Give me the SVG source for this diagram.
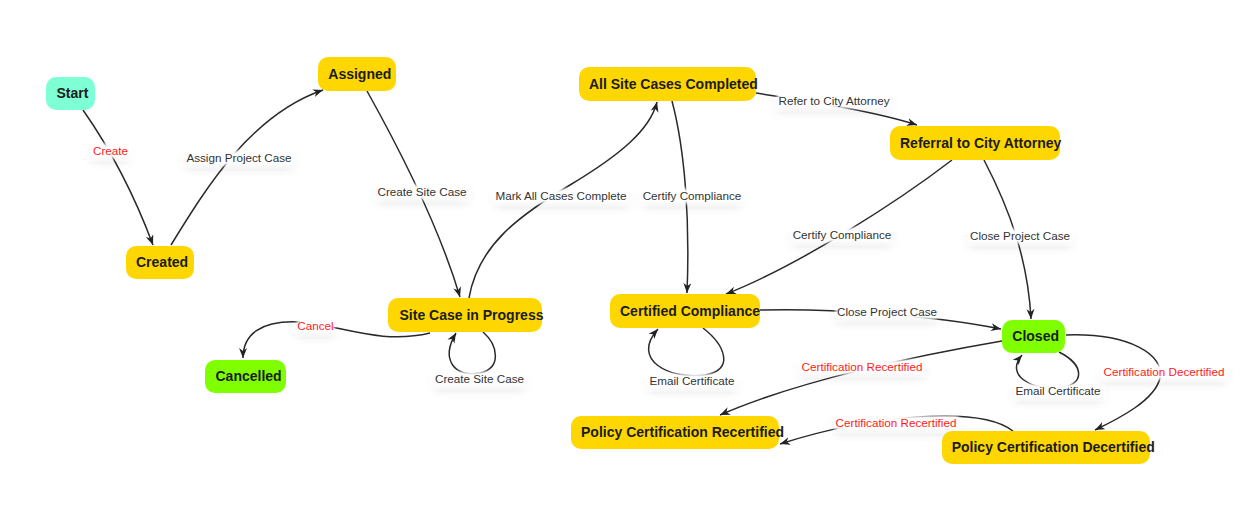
<svg xmlns="http://www.w3.org/2000/svg" width="1248" height="525" viewBox="0 0 1248 525">
<defs>
<style>
.node rect{stroke:none}
.yellow{fill:#FFD700}
.green{fill:#7FFF00}
.aqua{fill:#7FFFD4}
.ntext{font-family:"Liberation Sans",Arial,sans-serif;font-size:14px;font-weight:bold;fill:#1c1c1c}
.edge{fill:none;stroke:#2a2a2a;stroke-width:1.5;marker-end:url(#arrow)}
.lbl{font-family:"Liberation Sans",Arial,sans-serif;font-size:11.7px;fill:#333;text-anchor:middle}
.red{fill:#FF1a1a}
.lbg{fill:#fff;filter:url(#glow)}
</style>
<marker id="arrow" markerUnits="userSpaceOnUse" markerWidth="11" markerHeight="9" refX="10" refY="4" orient="auto" viewBox="0 0 11 9">
<path d="M0,0 L10,4 L0,8 L3,4 z" fill="#222"/>
</marker>
<filter id="glow" x="-50%" y="-150%" width="200%" height="400%">
<feGaussianBlur in="SourceAlpha" stdDeviation="5" result="b"/>
<feOffset in="b" dx="0" dy="4" result="o"/>
<feFlood flood-color="#000" flood-opacity="0.13"/>
<feComposite in2="o" operator="in" result="s"/>
<feGaussianBlur in="SourceGraphic" stdDeviation="2" result="w"/>
<feMerge><feMergeNode in="s"/><feMergeNode in="w"/><feMergeNode in="w"/></feMerge>
</filter>
</defs>
<rect width="1248" height="525" fill="#fff"/>

<g id="connectors">
<path class="edge" d="M83,110 Q125,170 153,245"/>
<path class="edge" d="M171,245 C205,190 250,115 323,90"/>
<path class="edge" d="M367,91 C400,150 440,230 460,297"/>
<path class="edge" d="M469,298 C478,245 520,215 570,185 C620,155 650,130 657,102"/>
<path class="edge" d="M672,101 C685,150 690,220 687,293"/>
<path class="edge" d="M756,93 C800,100 870,110 917,125"/>
<path class="edge" d="M952,160 C900,200 800,265 726,294"/>
<path class="edge" d="M984,160 C1010,210 1028,260 1031,319"/>
<path class="edge" d="M760,310 C830,308 930,315 1001,329"/>
<path class="edge" d="M1002,341 C920,355 800,380 720,415"/>
<path class="edge" d="M1013,431 C980,405 870,415 780,444"/>
<path class="edge" d="M1066,335 C1130,333 1165,355 1160,378 C1155,400 1120,418 1095,430"/>
<path class="edge" d="M430,333 C380,345 340,325 300,322 C260,320 243,335 243,358"/>
<path class="edge" d="M483,332 C498,345 502,368 480,373 C455,378 440,360 456,333"/>
<path class="edge" d="M703,328 C725,345 735,370 705,375 C670,380 630,360 658,329"/>
<path class="edge" d="M1059,352 C1085,365 1085,385 1060,388 C1030,390 1005,375 1022,355"/>
</g>

<g id="edge-labels">
<g><rect class="lbg" x="93" y="145" width="35" height="12"/><text class="lbl red" x="110.5" y="155">Create</text></g>
<g><rect class="lbg" x="187" y="152" width="105" height="12"/><text class="lbl" x="239" y="162">Assign Project Case</text></g>
<g><rect class="lbg" x="378" y="186" width="89" height="12"/><text class="lbl" x="422" y="196">Create Site Case</text></g>
<g><rect class="lbg" x="496" y="190" width="131" height="12"/><text class="lbl" x="561" y="200">Mark All Cases Complete</text></g>
<g><rect class="lbg" x="643" y="190" width="98" height="12"/><text class="lbl" x="692" y="200">Certify Compliance</text></g>
<g><rect class="lbg" x="778" y="95" width="112" height="12"/><text class="lbl" x="834" y="105">Refer to City Attorney</text></g>
<g><rect class="lbg" x="793" y="229" width="98" height="12"/><text class="lbl" x="842" y="239">Certify Compliance</text></g>
<g><rect class="lbg" x="970" y="230" width="100" height="12"/><text class="lbl" x="1020" y="240">Close Project Case</text></g>
<g><rect class="lbg" x="837" y="306" width="100" height="12"/><text class="lbl" x="887" y="316">Close Project Case</text></g>
<g><rect class="lbg" x="298" y="320" width="35" height="12"/><text class="lbl red" x="315.5" y="330">Cancel</text></g>
<g><rect class="lbg" x="435" y="373" width="89" height="12"/><text class="lbl" x="479.5" y="383">Create Site Case</text></g>
<g><rect class="lbg" x="649" y="375" width="86" height="12"/><text class="lbl" x="692" y="385">Email Certificate</text></g>
<g><rect class="lbg" x="800" y="361" width="123" height="12"/><text class="lbl red" x="862" y="371">Certification Recertified</text></g>
<g><rect class="lbg" x="835" y="417" width="123" height="12"/><text class="lbl red" x="896" y="427">Certification Recertified</text></g>
<g><rect class="lbg" x="1015" y="385" width="86" height="12"/><text class="lbl" x="1058" y="395">Email Certificate</text></g>
<g><rect class="lbg" x="1102" y="366" width="124" height="12"/><text class="lbl red" x="1164" y="376">Certification Decertified</text></g>
</g>

<g id="node-start" class="node"><rect class="aqua" x="46" y="77" width="49" height="33" rx="10"/><text class="ntext" x="56.5" y="97.5">Start</text></g>
<g id="node-created" class="node"><rect class="yellow" x="126" y="246" width="68" height="33" rx="10"/><text class="ntext" x="136" y="266.7">Created</text></g>
<g id="node-assigned" class="node"><rect class="yellow" x="318" y="57" width="78" height="34" rx="10"/><text class="ntext" x="328.3" y="78.5">Assigned</text></g>
<g id="node-allsite" class="node"><rect class="yellow" x="579" y="67" width="177" height="34" rx="10"/><text class="ntext" x="589" y="88.5">All Site Cases Completed</text></g>
<g id="node-referral" class="node"><rect class="yellow" x="890" y="126" width="170" height="34" rx="10"/><text class="ntext" x="900" y="147.5">Referral to City Attorney</text></g>
<g id="node-siteprogress" class="node"><rect class="yellow" x="388" y="298" width="154" height="34" rx="10"/><text class="ntext" x="399.5" y="319.5">Site Case in Progress</text></g>
<g id="node-cancelled" class="node"><rect class="green" x="205" y="360" width="81" height="33" rx="10"/><text class="ntext" x="215.5" y="381">Cancelled</text></g>
<g id="node-certified" class="node"><rect class="yellow" x="610" y="294" width="150" height="34" rx="10"/><text class="ntext" x="620" y="315.5">Certified Compliance</text></g>
<g id="node-closed" class="node"><rect class="green" x="1002" y="320" width="63" height="33" rx="10"/><text class="ntext" x="1012.3" y="341">Closed</text></g>
<g id="node-recertified" class="node"><rect class="yellow" x="571" y="416" width="208" height="33" rx="10"/><text class="ntext" x="581" y="437">Policy Certification Recertified</text></g>
<g id="node-decertified" class="node"><rect class="yellow" x="942" y="431" width="208" height="33" rx="10"/><text class="ntext" x="951.7" y="452">Policy Certification Decertified</text></g>
</svg>
